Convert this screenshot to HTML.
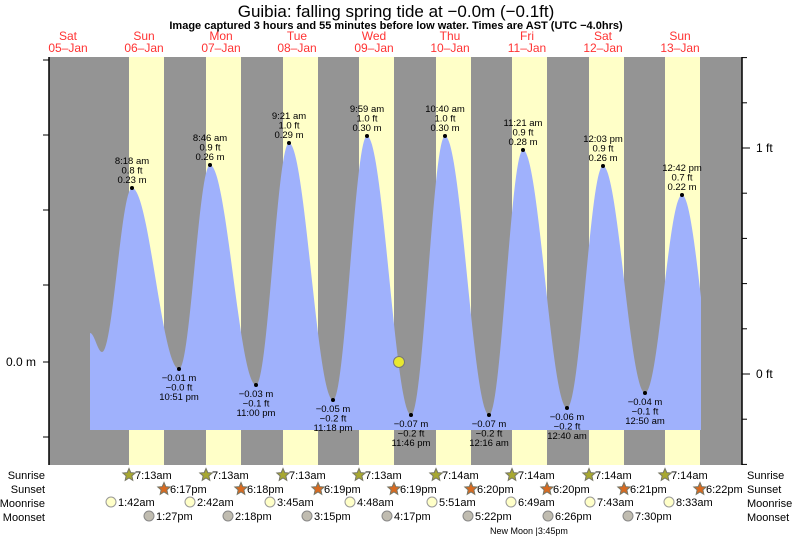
<!DOCTYPE html>
<html><head><meta charset="utf-8"><style>
body{margin:0;background:#fff;width:793px;height:538px;overflow:hidden;font-family:"Liberation Sans",sans-serif}
</style></head><body>
<svg id="s" width="793" height="538" xmlns="http://www.w3.org/2000/svg" font-family="Liberation Sans, sans-serif">
<rect x="49" y="57" width="693" height="408" fill="#949494"/>
<g id="stripes"></g>
<path id="tide" fill="#9fb1fc"/>
<g id="dots"></g>
<line x1="49" y1="57" x2="49" y2="465" stroke="#000" stroke-width="1.5"/>
<line x1="742" y1="57" x2="742" y2="465" stroke="#000" stroke-width="1.5"/>
<g id="ticks" stroke="#000"></g>
<text x="396" y="17" font-size="17" text-anchor="middle">Guibia: falling  spring tide at −0.0m (−0.1ft)</text>
<text x="396" y="29" font-size="11" font-weight="bold" text-anchor="middle">Image captured 3 hours and 55 minutes before low water. Times are AST (UTC −4.0hrs)</text>
<g id="days" fill="#f33" font-size="12" text-anchor="middle"></g>
<text x="6" y="366" font-size="12">0.0 m</text>
<text x="756" y="152" font-size="12">1 ft</text>
<text x="756" y="378" font-size="12">0 ft</text>
<circle cx="399" cy="362" r="5.5" fill="#e8e830" stroke="#777"/>
<g font-size="12" id="rows"></g>
<text x="490" y="534" font-size="9">New Moon |3:45pm</text>
</svg>
<script>
const S='http://www.w3.org/2000/svg';
function el(p,t,a,txt){const e=document.createElementNS(S,t);for(const k in a)e.setAttribute(k,a[k]);if(txt!=null)e.textContent=txt;document.getElementById(p).appendChild(e);return e;}
const day=[129,206,283,359,436,512,589,665];
day.forEach(x=>el('stripes','rect',{x:x,y:57,width:35,height:408,fill:'#ffffc8'}));
const names=[["Sat","05–Jan",68],["Sun","06–Jan",144],["Mon","07–Jan",221],["Tue","08–Jan",297],["Wed","09–Jan",374],["Thu","10–Jan",450],["Fri","11–Jan",527],["Sat","12–Jan",603],["Sun","13–Jan",680]];
names.forEach(n=>{el('days','text',{x:n[2],y:40},n[0]);el('days','text',{x:n[2],y:52},n[1]);});
const ex=[[90,333],[102,352],[132,188],[179,369],[210,165],[256,385],[289,143],[333,400],[367,136],[411,415],[445,136],[489,415],[523,150],[567,408],[603,166],[645,393],[682,195],[720,400]];
let d='M90,430 L90,333';
for(let i=0;i<ex.length-1;i++){const[a,b]=ex[i],[c,e]=ex[i+1];for(let x=a+1;x<=c;x++){if(x>701)break;const t=(x-a)/(c-a);d+=' L'+x+','+(b+(e-b)*(1-Math.cos(Math.PI*t))/2).toFixed(1);}}
d+=' L701,430 Z';document.getElementById('tide').setAttribute('d',d);
const hi=[[132,188,"8:18 am","0.8 ft","0.23 m"],[210,165,"8:46 am","0.9 ft","0.26 m"],[289,143,"9:21 am","1.0 ft","0.29 m"],[367,136,"9:59 am","1.0 ft","0.30 m"],[445,136,"10:40 am","1.0 ft","0.30 m"],[523,150,"11:21 am","0.9 ft","0.28 m"],[603,166,"12:03 pm","0.9 ft","0.26 m"],[682,195,"12:42 pm","0.7 ft","0.22 m"]];
hi.forEach(h=>{el('dots','circle',{cx:h[0],cy:h[1],r:2,fill:'#000'});[h[2],h[3],h[4]].forEach((t,i)=>el('dots','text',{x:h[0],y:h[1]-24+i*9.5,'font-size':9.5,'text-anchor':'middle'},t));});
const lo=[[179,369,"−0.01 m","−0.0 ft","10:51 pm"],[256,385,"−0.03 m","−0.1 ft","11:00 pm"],[333,400,"−0.05 m","−0.2 ft","11:18 pm"],[411,415,"−0.07 m","−0.2 ft","11:46 pm"],[489,415,"−0.07 m","−0.2 ft","12:16 am"],[567,408,"−0.06 m","−0.2 ft","12:40 am"],[645,393,"−0.04 m","−0.1 ft","12:50 am"]];
lo.forEach(h=>{el('dots','circle',{cx:h[0],cy:h[1],r:2,fill:'#000'});[h[2],h[3],h[4]].forEach((t,i)=>el('dots','text',{x:h[0],y:h[1]+12+i*9.5,'font-size':9.5,'text-anchor':'middle'},t));});
[60,135,210,285,362,437].forEach(y=>el('ticks','line',{x1:43,x2:49,y1:y,y2:y}));
for(let k=-2;k<=7;k++){const y=148+45.2*k;const L=(k==0||k==5)?8:5;el('ticks','line',{x1:742,x2:742+L,y1:y,y2:y});}
function star(x,y,f){let p='';for(let i=0;i<10;i++){const r=i%2?3:6.5,a=-Math.PI/2+i*Math.PI/5;p+=(x+r*Math.cos(a)).toFixed(1)+','+(y+r*Math.sin(a)).toFixed(1)+' ';}el('rows','polygon',{points:p,fill:f,stroke:'#776'});}
[["Sunrise",475],["Sunset",489],["Moonrise",503],["Moonset",517]].forEach(r=>{el('rows','text',{x:45,y:r[1]+4,'text-anchor':'end','font-size':11},r[0]);el('rows','text',{x:747,y:r[1]+4,'font-size':11},r[0]);});
const sr=["7:13am","7:13am","7:13am","7:13am","7:14am","7:14am","7:14am","7:14am"];
const ss=["6:17pm","6:18pm","6:19pm","6:19pm","6:20pm","6:20pm","6:21pm","6:22pm"];
day.forEach((x,i)=>{star(x,475,'#a8a830');el('rows','text',{x:x+6,y:479,'font-size':11},sr[i]);star(x+35,489,'#d86a20');el('rows','text',{x:x+41,y:493,'font-size':11},ss[i]);});
const mr=[[111,"1:42am"],[190,"2:42am"],[270,"3:45am"],[350,"4:48am"],[432,"5:51am"],[511,"6:49am"],[590,"7:43am"],[669,"8:33am"]];
mr.forEach(m=>{el('rows','circle',{cx:m[0],cy:502,r:5,fill:'#ffffc8',stroke:'#999'});el('rows','text',{x:m[0]+7,y:506,'font-size':11},m[1]);});
const ms=[[149,"1:27pm"],[228,"2:18pm"],[307,"3:15pm"],[387,"4:17pm"],[468,"5:22pm"],[548,"6:26pm"],[628,"7:30pm"]];
ms.forEach(m=>{el('rows','circle',{cx:m[0],cy:516,r:5,fill:'#c0bcb0',stroke:'#888'});el('rows','text',{x:m[0]+7,y:520,'font-size':11},m[1]);});
</script>
</body></html>
